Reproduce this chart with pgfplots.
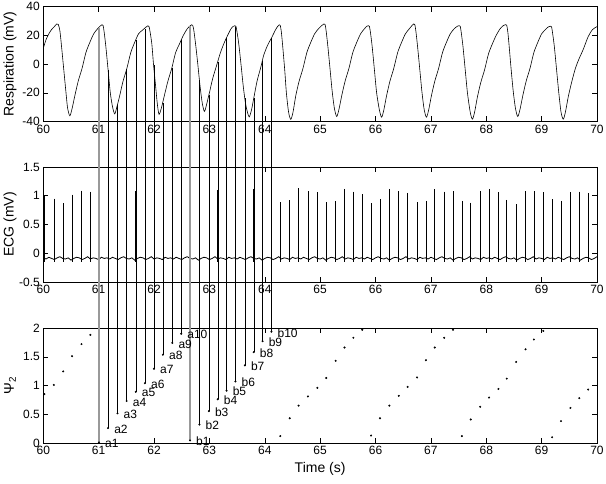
\documentclass[border=0pt]{standalone}
\usepackage{fontspec}
\setmainfont{Liberation Sans}
\usepackage{pgfplots}
\usepackage{pgfplotstable}
\pgfplotsset{compat=1.18}

% one row per heart beat: time, R-peak height (mV), phase Psi_2
\pgfplotstableread{
t h psi
60.02 1.00 0.85
60.19 0.95 1.01
60.36 0.87 1.245
60.52 1.02 1.51
60.69 1.09 1.72
60.85 1.07 1.88
61.005 1.10 0.01
61.17 0.90 0.26
61.34 0.98 0.515
61.505 1.02 0.73
61.67 1.08 0.89
61.835 0.96 1.04
61.998 0.88 1.29
62.16 1.04 1.535
62.33 1.08 1.74
62.49 1.08 1.90
62.65 0.95 0.045
62.82 0.92 0.32
62.99 1.06 0.555
63.15 1.10 0.76
63.31 1.05 0.91
63.47 0.91 1.07
63.64 0.94 1.35
63.80 1.12 1.58
63.96 1.06 1.77
64.12 1.05 1.935
64.28 0.89 0.12
64.45 0.92 0.43
64.61 1.13 0.65
64.78 1.08 0.81
64.95 1.06 0.96
65.11 0.89 1.13
65.28 0.90 1.43
65.44 1.12 1.66
65.60 1.07 1.83
65.76 1.03 1.97
65.92 0.87 0.13
66.08 0.94 0.43
66.25 1.12 0.65
66.42 1.08 0.82
66.58 1.05 0.975
66.75 0.89 1.14
66.91 0.91 1.44
67.07 1.11 1.66
67.24 1.07 1.83
67.40 1.08 1.97
67.56 0.91 0.12
67.72 0.88 0.41
67.89 1.08 0.63
68.05 1.12 0.79
68.22 1.06 0.94
68.37 0.93 1.12
68.54 0.85 1.41
68.71 1.08 1.63
68.86 1.08 1.80
69.03 1.06 1.95
69.19 0.94 0.10
69.35 0.91 0.38
69.52 1.06 0.61
69.68 1.07 0.78
69.84 1.04 0.93
}\beats

% marked beats: time, phase, respiration value at that time, label
\pgfplotstableread{
t psi r lab
61.005 0.01 25.0 a1
61.17 0.26 -4.0 a2
61.34 0.515 -28.2 a3
61.505 0.73 -3.6 a4
61.67 0.89 16.7 a5
61.835 1.04 24.5 a6
61.998 1.29 -0.5 a7
62.16 1.535 -27.0 a8
62.33 1.74 -2.5 a9
62.49 1.90 16.5 a10
62.65 0.045 26.3 b1
62.82 0.32 -11.0 b2
62.99 0.555 -21.6 b3
63.15 0.76 1.6 b4
63.31 0.91 18.0 b5
63.47 1.07 25.6 b6
63.64 1.35 -24.0 b7
63.80 1.58 -24.0 b8
63.96 1.77 2.0 b9
64.12 1.935 18.0 b10
}\links

\pgfplotsset{
  panel/.style={
    scale only axis, width=553.7pt, height=115pt,
    anchor=south west,
    xmin=60, xmax=70, xtick={60,61,...,70},
    tick align=inside, major tick length=5pt,
    axis line style={line width=0.5pt},
    every tick/.style={black, line width=0.5pt},
    tick label style={font=\fontsize{12}{13}\selectfont},
    xlabel style={font=\fontsize{14}{16}\selectfont},
    /pgf/number format/assume math mode=true,
    every axis y label/.style={at={(axis description cs:-0.06,0.5)}, rotate=90,
      anchor=center, font=\fontsize{14}{16}\selectfont},
  },
  link/.style={draw=none, mark=none, forget plot,
    error bars/y dir=plus, error bars/y explicit, error bars/error mark=none},
}

\begin{document}
\begin{tikzpicture}
\path[use as bounding box] (0,0) rectangle (606pt,483pt);

% respiration
\begin{axis}[panel, at={(43.3pt,361.5pt)},
  ymin=-40, ymax=40, ytick={-40,-20,0,20,40}, ylabel={Respiration (mV)}]
\addplot[black, line width=0.6pt, smooth, tension=0.45] coordinates {
(60.00,11)(60.05,17)(60.10,21)(60.15,24)(60.20,26)(60.24,27.8)(60.27,27.6)
(60.30,23)(60.33,12)(60.37,-4)(60.41,-20)(60.44,-31)(60.48,-36)(60.52,-31)(60.57,-22)(60.63,-12)(60.70,-3)(60.77,8)(60.84,15)(60.91,21)(60.98,24.5)(61.03,26.5)
(61.06,27.3)(61.08,26.8)(61.10,22)(61.13,12)(61.17,-4)(61.21,-20)(61.25,-29.7)(61.29,-34.7)(61.33,-29.7)(61.38,-22)(61.44,-12)(61.51,-3)(61.58,8)(61.65,15)(61.72,21)(61.79,23.5)(61.84,25.2)
(61.89,26.6)(61.91,26)(61.93,22)(61.96,14)(61.99,0)(62.03,-16)(62.06,-28)(62.09,-35)(62.13,-31)(62.18,-23)(62.25,-12)(62.32,-3)(62.39,8)(62.46,14)(62.53,20)(62.60,24.5)(62.65,26.5)
(62.68,27.3)(62.70,26.8)(62.72,23)(62.75,14)(62.79,0)(62.83,-15)(62.87,-27)(62.91,-33)(62.95,-28)(63.00,-20)(63.06,-10)(63.13,-1)(63.20,8)(63.27,15)(63.33,20)(63.39,24.5)(63.43,26.2)
(63.46,26.6)(63.48,26.1)(63.50,22)(63.53,14)(63.57,0)(63.61,-15)(63.65,-27)(63.69,-34)(63.72,-36.8)(63.76,-32)(63.80,-24)(63.86,-12)(63.93,-2)(63.98,6)(64.05,13)(64.12,18)(64.19,23.5)(64.23,26)
(64.26,27.3)(64.28,26.8)(64.30,22)(64.32,14)(64.36,-4)(64.39,-20)(64.43,-33.5)(64.47,-38.5)(64.51,-33.5)(64.56,-22)(64.62,-12)(64.69,-3)(64.76,8)(64.83,15)(64.90,21)(64.97,24.5)(65.03,26.8)
(65.07,27.9)(65.09,27.4)(65.11,22.5)(65.14,12)(65.18,-4)(65.22,-20)(65.26,-31.5)(65.30,-36.5)(65.34,-31.5)(65.39,-22)(65.45,-12)(65.52,-3)(65.59,8)(65.66,15)(65.73,21)(65.80,24.5)(65.84,26.2)
(65.87,26.7)(65.89,26.2)(65.91,21.5)(65.94,12)(65.98,-4)(66.02,-20)(66.07,-32)(66.11,-37)(66.15,-32)(66.20,-22)(66.26,-12)(66.33,-3)(66.40,8)(66.47,15)(66.54,21)(66.61,24.5)(66.66,26.8)
(66.69,27.9)(66.71,27.4)(66.73,22.5)(66.76,12)(66.80,-4)(66.84,-20)(66.88,-32)(66.92,-37)(66.96,-32)(67.01,-22)(67.07,-12)(67.14,-3)(67.21,8)(67.28,15)(67.35,21)(67.42,24.5)(67.48,26.3)
(67.51,26.7)(67.53,26.2)(67.55,21.5)(67.58,12)(67.62,-4)(67.66,-20)(67.71,-33.4)(67.75,-38.4)(67.79,-33.4)(67.84,-23)(67.90,-13)(67.97,-4)(68.04,7)(68.11,14)(68.18,20)(68.25,24.5)(68.31,26.8)
(68.35,27.4)(68.37,26.9)(68.39,22)(68.41,14)(68.45,-4)(68.49,-20)(68.53,-31.5)(68.57,-36.5)(68.61,-31.5)(68.66,-22)(68.72,-12)(68.79,-3)(68.86,8)(68.93,15)(69.00,21)(69.07,24)(69.12,25.8)
(69.16,26.3)(69.18,25.8)(69.20,21)(69.23,12)(69.27,-4)(69.31,-20)(69.35,-33.4)(69.39,-38.4)(69.43,-33.4)(69.48,-23)(69.54,-13)(69.61,-3)(69.68,4)(69.75,10)(69.84,19)(69.92,24)(70.00,26)
};
\end{axis}

% ECG
\begin{axis}[panel, at={(43.3pt,201pt)},
  ymin=-0.5, ymax=1.5, ytick={-0.5,0,0.5,1,1.5}, ylabel={ECG (mV)}]
\addplot[black, line width=0.8pt] coordinates {
(60.00,-0.08)(60.05,-0.10)(60.10,-0.07)(60.15,-0.09)(60.20,-0.11)(60.25,-0.08)(60.30,-0.06)(60.35,-0.09)(60.40,-0.10)(60.45,-0.08)(60.50,-0.12)(60.55,-0.09)(60.60,-0.07)(60.65,-0.08)(60.70,-0.11)(60.75,-0.09)(60.80,-0.06)(60.85,-0.10)(60.90,-0.08)(60.95,-0.09)(61.00,-0.11)(61.05,-0.07)(61.10,-0.09)
(61.15,-0.08)(61.20,-0.10)(61.25,-0.07)(61.30,-0.09)(61.35,-0.11)(61.40,-0.08)(61.45,-0.06)(61.50,-0.09)(61.55,-0.10)(61.60,-0.08)(61.65,-0.12)(61.70,-0.09)(61.75,-0.07)(61.80,-0.08)(61.85,-0.11)(61.90,-0.09)(61.95,-0.06)(62.00,-0.10)(62.05,-0.08)(62.10,-0.09)(62.15,-0.11)(62.20,-0.07)(62.25,-0.09)
(62.30,-0.08)(62.35,-0.10)(62.40,-0.07)(62.45,-0.09)(62.50,-0.11)(62.55,-0.08)(62.60,-0.06)(62.65,-0.09)(62.70,-0.10)(62.75,-0.08)(62.80,-0.12)(62.85,-0.09)(62.90,-0.07)(62.95,-0.08)(63.00,-0.11)(63.05,-0.09)(63.10,-0.06)(63.15,-0.10)(63.20,-0.08)(63.25,-0.09)(63.30,-0.11)(63.35,-0.07)(63.40,-0.09)
(63.45,-0.08)(63.50,-0.10)(63.55,-0.07)(63.60,-0.09)(63.65,-0.11)(63.70,-0.08)(63.75,-0.06)(63.80,-0.09)(63.85,-0.10)(63.90,-0.08)(63.95,-0.12)(64.00,-0.09)(64.05,-0.07)(64.10,-0.08)(64.15,-0.11)(64.20,-0.09)(64.25,-0.06)(64.30,-0.10)(64.35,-0.08)(64.40,-0.09)(64.45,-0.11)(64.50,-0.07)(64.55,-0.09)
(64.60,-0.08)(64.65,-0.10)(64.70,-0.07)(64.75,-0.09)(64.80,-0.11)(64.85,-0.08)(64.90,-0.06)(64.95,-0.09)(65.00,-0.10)(65.05,-0.08)(65.10,-0.12)(65.15,-0.09)(65.20,-0.07)(65.25,-0.08)(65.30,-0.11)(65.35,-0.09)(65.40,-0.06)(65.45,-0.10)(65.50,-0.08)(65.55,-0.09)(65.60,-0.11)(65.65,-0.07)(65.70,-0.09)
(65.75,-0.08)(65.80,-0.10)(65.85,-0.07)(65.90,-0.09)(65.95,-0.11)(66.00,-0.08)(66.05,-0.06)(66.10,-0.09)(66.15,-0.10)(66.20,-0.08)(66.25,-0.12)(66.30,-0.09)(66.35,-0.07)(66.40,-0.08)(66.45,-0.11)(66.50,-0.09)(66.55,-0.06)(66.60,-0.10)(66.65,-0.08)(66.70,-0.09)(66.75,-0.11)(66.80,-0.07)(66.85,-0.09)
(66.90,-0.08)(66.95,-0.10)(67.00,-0.07)(67.05,-0.09)(67.10,-0.11)(67.15,-0.08)(67.20,-0.06)(67.25,-0.09)(67.30,-0.10)(67.35,-0.08)(67.40,-0.12)(67.45,-0.09)(67.50,-0.07)(67.55,-0.08)(67.60,-0.11)(67.65,-0.09)(67.70,-0.06)(67.75,-0.10)(67.80,-0.08)(67.85,-0.09)(67.90,-0.11)(67.95,-0.07)(68.00,-0.09)
(68.05,-0.08)(68.10,-0.10)(68.15,-0.07)(68.20,-0.09)(68.25,-0.11)(68.30,-0.08)(68.35,-0.06)(68.40,-0.09)(68.45,-0.10)(68.50,-0.08)(68.55,-0.12)(68.60,-0.09)(68.65,-0.07)(68.70,-0.08)(68.75,-0.11)(68.80,-0.09)(68.85,-0.06)(68.90,-0.10)(68.95,-0.08)(69.00,-0.09)(69.05,-0.11)(69.10,-0.07)(69.15,-0.09)
(69.20,-0.08)(69.25,-0.10)(69.30,-0.07)(69.35,-0.09)(69.40,-0.11)(69.45,-0.08)(69.50,-0.06)(69.55,-0.09)(69.60,-0.10)(69.65,-0.08)(69.70,-0.12)(69.75,-0.09)(69.80,-0.07)(69.85,-0.08)(69.90,-0.11)(69.95,-0.09)(70.00,-0.06)
};
% R peaks: vertical strokes from the S dip up to the peak
\addplot[draw=none, mark=none, forget plot,
  error bars/y dir=minus, error bars/y explicit, error bars/error mark=none,
  error bars/error bar style={draw=black, line width=0.6pt}]
  table[x=t, y=h, y error minus expr=\thisrow{h}+0.15] {\beats};
\end{axis}

% phase
\begin{axis}[panel, at={(43.3pt,40pt)}, clip=false,
  ymin=0, ymax=2, ytick={0,0.5,1,1.5,2},
  ylabel={Ψ\textsubscript{2}}, xlabel={Time (s)}]
% connectors from the respiration trace down to the marked phases
\addplot[link, error bars/error bar style={draw=black, line width=0.4pt}]
  table[x=t, y=psi, y error plus expr={(321.5+(\thisrow{r}+40)*1.4375)/57.5-\thisrow{psi}}] {\links};
\addplot[skip coords between index={1}{10}, skip coords between index={11}{20},
  link, error bars/error bar style={draw=black!40, line width=1.3pt}]
  table[x=t, y=psi, y error plus expr={(321.5+(\thisrow{r}+40)*1.4375)/57.5-\thisrow{psi}}] {\links};
\addplot[only marks, mark=*, mark size=0.8pt, black] table[x=t, y=psi] {\beats};
\addplot[draw=none, mark=none, forget plot, nodes near coords, point meta=explicit symbolic,
  every node near coord/.style={anchor=west, inner sep=0pt, xshift=6pt, yshift=-1pt,
    font=\fontsize{12}{13}\selectfont}]
  table[x=t, y=psi, meta=lab] {\links};
\end{axis}
\end{tikzpicture}
\end{document}
